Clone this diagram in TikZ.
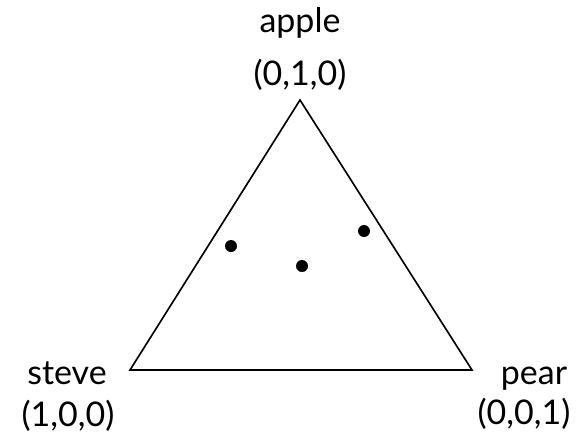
\documentclass[tikz,border=0pt]{standalone}
\usepackage{fontspec}
\setmainfont{Lato}
\usepackage{tikz}
\usetikzlibrary{positioning}
\tikzset{
  lbl/.style={anchor=base, inner sep=0pt, font=\fontsize{29}{35}\selectfont},
  pt/.style={circle, fill=black, inner sep=0pt, minimum size=0.36cm},
  edge/.style={line width=1.4pt, line join=miter}
}

\begin{document}
\begin{tikzpicture}[x=0.03cm, y=-0.03cm]
  \useasboundingbox (0,0) rectangle (579,438);

  % Corners
  \coordinate (top) at (300,100);
  \coordinate (lft) at (130,370);
  \coordinate (rgt) at (472,370);

  % Labels
  \node[lbl] (apple) at (300,32) {apple};
  \node[lbl] (applec) at (300,85) {(0,1,0)};
  \node[lbl] (steve) at (67,384) {steve};
  \node[lbl] (stevec) at (68,426) {(1,0,0)};
  \node[lbl] (pear) at (534,384) {pear};
  \node[lbl] (pearc) at (524,424) {(0,0,1)};

  % Triangle
  \draw[edge] (top) -- (lft) -- (rgt) -- cycle;

  % Points
  \node[pt] (p1) at (231,246) {};
  \node[pt] (p2) at (364,231) {};
  \node[pt] (p3) at (302,266) {};
\end{tikzpicture}
\end{document}
